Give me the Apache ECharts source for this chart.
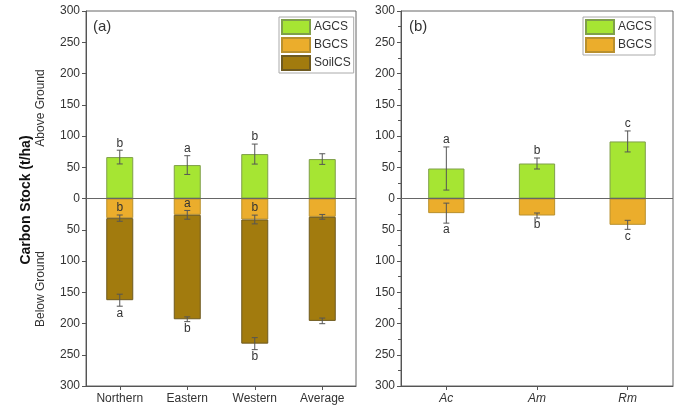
<!DOCTYPE html>
<html><head><meta charset="utf-8">
<script src="https://cdn.jsdelivr.net/npm/echarts@6/dist/echarts.min.js"></script>
<style>html,body{margin:0;padding:0;background:#fff}#c{width:680px;height:412px}</style>
</head><body><div id="c"></div>
<script>
// ---- data ----
const regions = ['Northern', 'Eastern', 'Western', 'Average'];
const species = ['Ac', 'Am', 'Rm'];
const yTicks = [-300, -250, -200, -150, -100, -50, 0, 50, 100, 150, 200, 250, 300];

// Panel (a)
const agcsA = [66.3, 53.5, 71.1, 63.1];
const agcsAErr = [11, 15, 16, 8.5];
const agcsALetters = ['b', 'a', 'b', ''];
const bgcsA = [31.4, 26.1, 33.6, 29.3];
const bgcsAErr = [5, 7, 7, 3.8];
const bgcsALetters = ['b', 'a', 'b', ''];
const soilA = [131.3, 167.1, 198.6, 166.5];
const soilAErr = [9.6, 3.8, 9.6, 4.5];
const soilALetters = ['a', 'b', 'b', ''];

// Panel (b)
const agcsB = [48.0, 56.0, 91.3];
const agcsBErr = [34.5, 8.8, 16.8];
const agcsBLetters = ['a', 'b', 'c'];
const bgcsB = [23.4, 27.2, 42.1];
const bgcsBErr = [16, 4, 7.2];
const bgcsBLetters = ['a', 'b', 'c'];

// ---- styles ----
const C_AG = '#a6e533', B_AG = '#7f9f4a';
const C_BG = '#ebad2c', B_BG = '#b8902e';
const C_SO = '#a27b0e', B_SO = '#6e5a20';
const TXT = '#333';
const FONT = 'Liberation Sans, Arial, sans-serif';

const chart = echarts.init(document.getElementById('c'), null, {renderer: 'canvas'});

function errSeries(name, xIdx, centers, errs, letters, side) {
  const data = centers.map((v, i) => [i, v, errs[i]]);
  return {
    type: 'custom', name: name, xAxisIndex: xIdx, yAxisIndex: xIdx, silent: true, z: 10,
    data: data,
    encode: {x: 0, y: 1},
    renderItem: function (params, api) {
      const x = api.value(0), y = api.value(1), e = api.value(2);
      const top = api.coord([x, y + e]);
      const bot = api.coord([x, y - e]);
      const cap = 3;
      const st = {stroke: '#555', lineWidth: 1};
      const children = [
        {type: 'line', shape: {x1: top[0], y1: top[1], x2: bot[0], y2: bot[1]}, style: st},
        {type: 'line', shape: {x1: top[0] - cap, y1: top[1], x2: top[0] + cap, y2: top[1]}, style: st},
        {type: 'line', shape: {x1: bot[0] - cap, y1: bot[1], x2: bot[0] + cap, y2: bot[1]}, style: st}
      ];
      const letter = letters[params.dataIndex];
      if (letter) {
        const up = side === 'up';
        children.push({
          type: 'text',
          style: {
            text: letter, x: top[0], y: up ? top[1] - 1 : bot[1] + 1,
            textAlign: 'center', textVerticalAlign: up ? 'bottom' : 'top',
            fill: TXT, font: '12px ' + FONT
          }
        });
      }
      return {type: 'group', children: children};
    }
  };
}

function yAxisDef(idx, minor) {
  return {
    type: 'value', gridIndex: idx, min: -300, max: 300, interval: 50,
    axisLine: {show: true, lineStyle: {color: '#555'}},
    axisTick: {show: true, inside: false, length: 4, lineStyle: {color: '#555'}},
    minorTick: {show: minor, splitNumber: 2, length: 3, lineStyle: {color: '#555'}},
    splitLine: {show: false},
    axisLabel: {color: TXT, fontSize: 12, fontFamily: FONT, margin: 6,
      formatter: v => String(Math.abs(v))}
  };
}

function xAxisDef(idx, cats, italic) {
  return {
    type: 'category', gridIndex: idx, data: cats, position: 'bottom',
    axisLine: {onZero: false, lineStyle: {color: '#555'}},
    axisTick: {show: true, alignWithLabel: true, length: 4, lineStyle: {color: '#555'}},
    axisLabel: {color: TXT, fontSize: 12, fontFamily: FONT, margin: 7, fontStyle: italic ? 'italic' : 'normal'}
  };
}

const zeroLine = {
  silent: true, symbol: 'none', label: {show: false},
  lineStyle: {color: '#666', width: 1, type: 'solid'},
  data: [{yAxis: 0}]
};

const option = {
  animation: false,
  textStyle: {fontFamily: FONT},
  grid: [
    {left: 86, top: 11, width: 270, height: 375, show: true, borderColor: '#666', borderWidth: 1},
    {left: 401, top: 11, width: 272, height: 375, show: true, borderColor: '#666', borderWidth: 1}
  ],
  xAxis: [xAxisDef(0, regions, false), xAxisDef(1, species, true)],
  yAxis: [yAxisDef(0, false), yAxisDef(1, true)],
  legend: [
    {orient: 'vertical', left: 279, top: 17, itemWidth: 28, itemHeight: 14, itemGap: 2,
      padding: [2, 3, 2, 2], borderColor: '#aaa', borderWidth: 1,
      textStyle: {color: TXT, fontSize: 12, fontFamily: FONT, padding: [0, 0, 0, -1]},
      data: ['AGCS', 'BGCS', 'SoilCS'], selectedMode: false, icon: 'rect'},
    {orient: 'vertical', left: 583, top: 17, itemWidth: 28, itemHeight: 14, itemGap: 2,
      padding: [2, 3, 2, 2], borderColor: '#aaa', borderWidth: 1,
      textStyle: {color: TXT, fontSize: 12, fontFamily: FONT, padding: [0, 0, 0, -1]},
      data: ['AGCS', 'BGCS'], selectedMode: false, icon: 'rect'}
  ],
  graphic: [
    {type: 'text', left: 93, top: 19, style: {text: '(a)', fill: TXT, font: '15px ' + FONT}},
    {type: 'text', left: 409, top: 19, style: {text: '(b)', fill: TXT, font: '15px ' + FONT}},
    {type: 'text', x: 26, y: 200, rotation: Math.PI / 2,
      style: {text: 'Carbon Stock (t/ha)', fill: '#111', font: 'bold 14px ' + FONT, textAlign: 'center', textVerticalAlign: 'middle'}},
    {type: 'text', x: 41, y: 108, rotation: Math.PI / 2,
      style: {text: 'Above Ground', fill: TXT, font: '12px ' + FONT, textAlign: 'center', textVerticalAlign: 'middle'}},
    {type: 'text', x: 41, y: 289, rotation: Math.PI / 2,
      style: {text: 'Below Ground', fill: TXT, font: '12px ' + FONT, textAlign: 'center', textVerticalAlign: 'middle'}}
  ],
  series: [
    {type: 'bar', name: 'AGCS', xAxisIndex: 0, yAxisIndex: 0, stack: 'a', barWidth: '40%',
      itemStyle: {color: C_AG, borderColor: B_AG, borderWidth: 1}, data: agcsA, markLine: zeroLine},
    {type: 'bar', name: 'BGCS', xAxisIndex: 0, yAxisIndex: 0, stack: 'a', barWidth: '40%',
      itemStyle: {color: C_BG, borderColor: B_BG, borderWidth: 1}, data: bgcsA.map(v => -v)},
    {type: 'bar', name: 'SoilCS', xAxisIndex: 0, yAxisIndex: 0, stack: 'a', barWidth: '40%',
      itemStyle: {color: C_SO, borderColor: B_SO, borderWidth: 1}, data: soilA.map(v => -v)},
    {type: 'bar', name: 'AGCS', xAxisIndex: 1, yAxisIndex: 1, stack: 'b', barWidth: '40%',
      itemStyle: {color: C_AG, borderColor: B_AG, borderWidth: 1}, data: agcsB, markLine: zeroLine},
    {type: 'bar', name: 'BGCS', xAxisIndex: 1, yAxisIndex: 1, stack: 'b', barWidth: '40%',
      itemStyle: {color: C_BG, borderColor: B_BG, borderWidth: 1}, data: bgcsB.map(v => -v)},
    errSeries('errAG_a', 0, agcsA, agcsAErr, agcsALetters, 'up'),
    errSeries('errBG_a', 0, bgcsA.map(v => -v), bgcsAErr, bgcsALetters, 'up'),
    errSeries('errSO_a', 0, soilA.map((v, i) => -(v + bgcsA[i])), soilAErr, soilALetters, 'down'),
    errSeries('errAG_b', 1, agcsB, agcsBErr, agcsBLetters, 'up'),
    errSeries('errBG_b', 1, bgcsB.map(v => -v), bgcsBErr, bgcsBLetters, 'down')
  ]
};
chart.setOption(option);
</script>
</body></html>
